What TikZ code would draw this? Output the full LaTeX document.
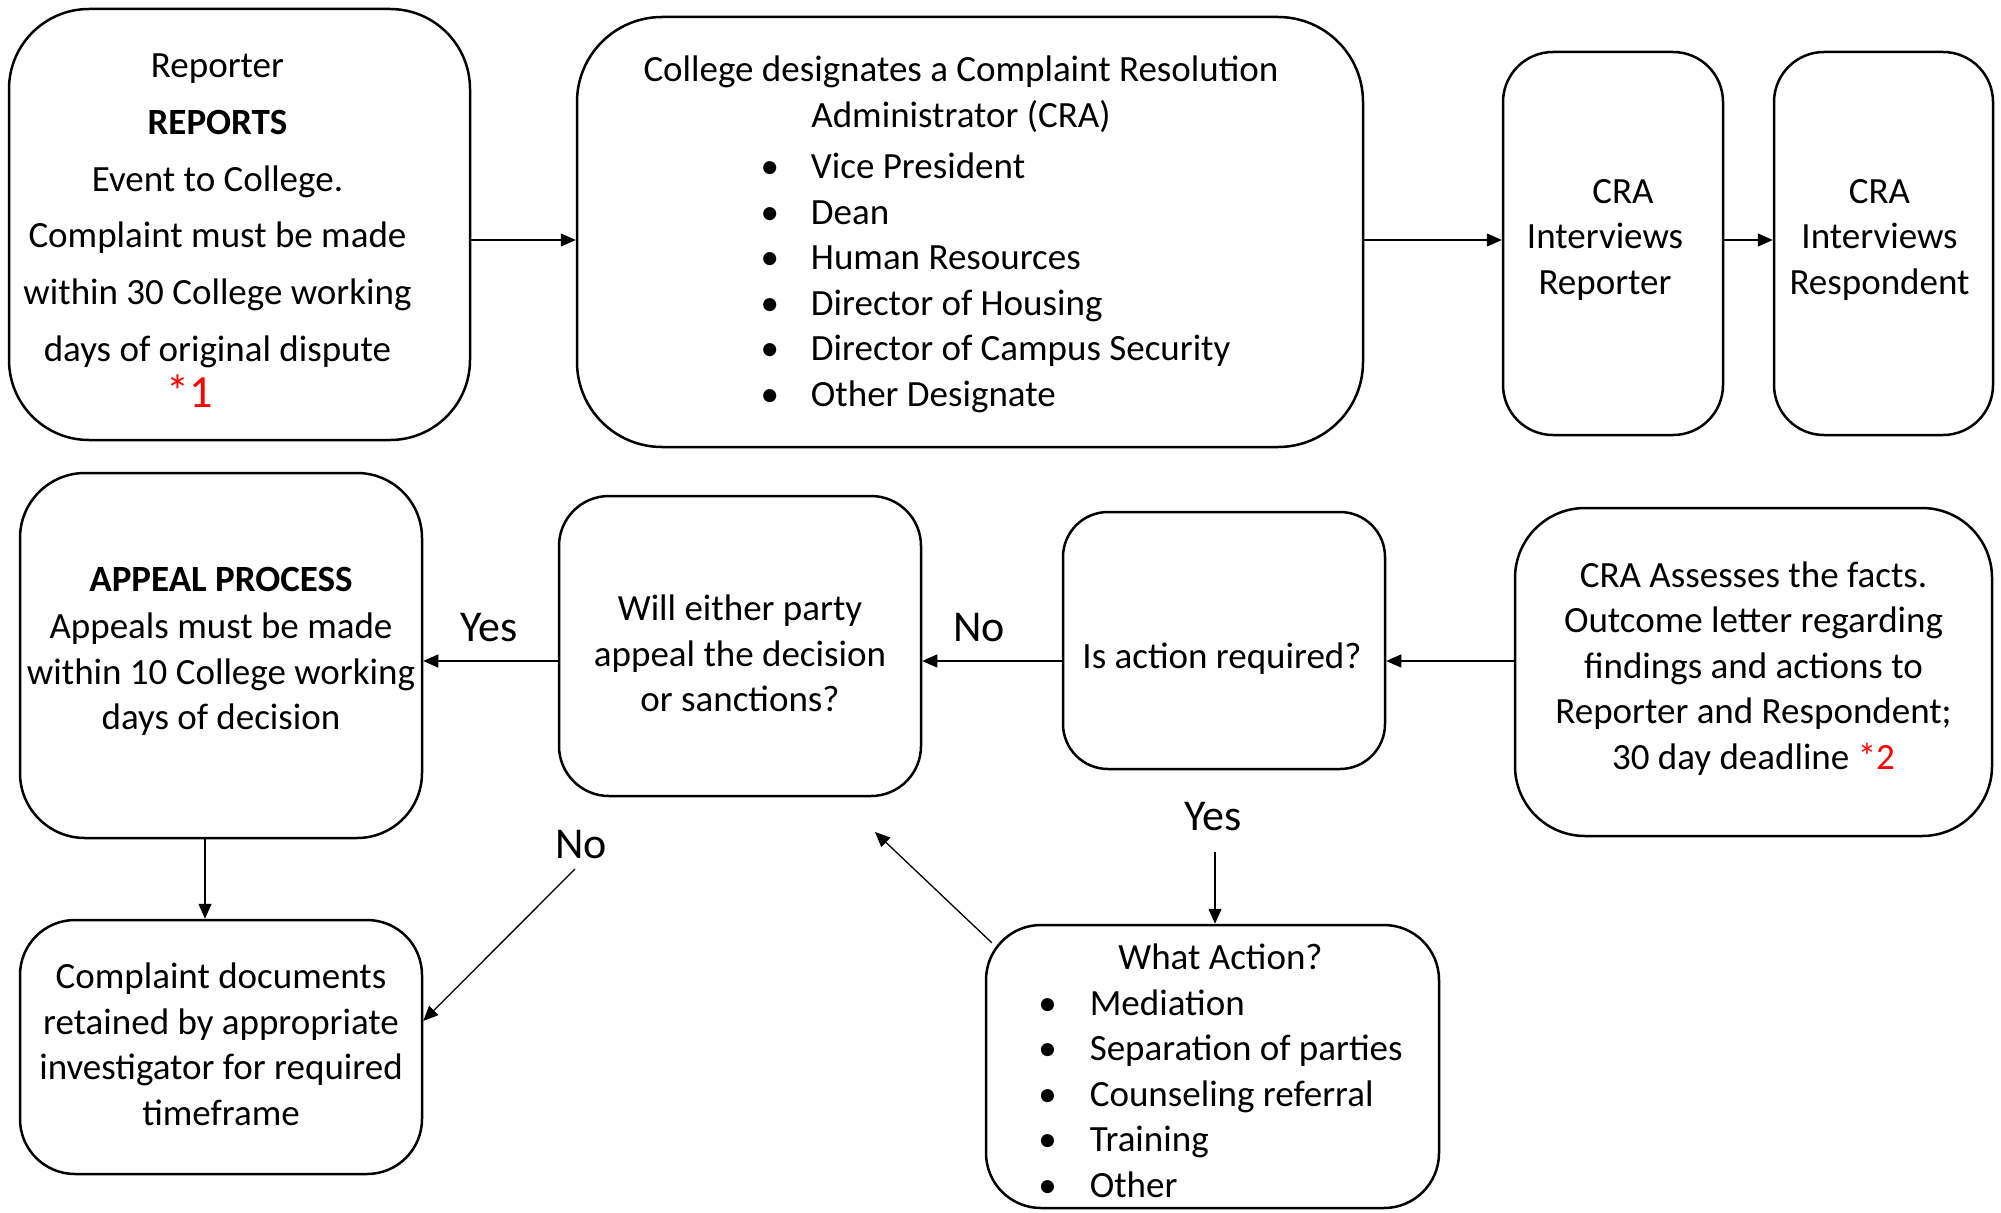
\documentclass[tikz,border=0pt]{standalone}
\usepackage{fontspec}
\setmainfont{Carlito}
\usepackage{xcolor}
\usetikzlibrary{arrows.meta}
% centred block of lines, moved by (#1,#2) inside its box
\newcommand{\boxtext}[3]{\hspace*{#1}\raisebox{#2}[\height][\depth]{\begin{tabular}{@{}c@{}}#3\end{tabular}}\hspace*{-#1}}

\begin{document}
\begin{tikzpicture}[inner sep=0pt,
  box/.style={draw, line width=2.5pt, font=\fontsize{37}{45.5}\selectfont},
  arr/.style={-{Triangle[length=15pt,width=13pt]}, line width=1.3pt, draw},
  lbl/.style={font=\fontsize{44}{50}\selectfont}]
\useasboundingbox (0pt,0pt) rectangle (2001pt,-1212pt);

\node (n0) [box, minimum width=461pt, minimum height=431pt, rounded corners=80pt, at={(239.5pt,-224.5pt)}, font=\fontsize{37}{56.7}\selectfont] {\boxtext{-22pt}{-7pt}{Reporter\\ \textbf{REPORTS}\\ Event to College.\\ Complaint must be made\\ within 30 College working\\ days of original dispute\\[-10pt] {\color{red}\fontsize{46}{50}\selectfont *1}\hspace*{56pt}}};
\node (n1) [box, minimum width=786pt, minimum height=430pt, rounded corners=85pt, at={(970pt,-232pt)}] {\boxtext{-9pt}{-3pt}{College designates a Complaint Resolution\\ Administrator (CRA)\\[6pt] \hspace*{69pt}\begin{tabular}[t]{@{}l@{\hspace{32pt}}l@{}}\textbullet & Vice President\\ \textbullet & Dean\\ \textbullet & Human Resources\\ \textbullet & Director of Housing\\ \textbullet & Director of Campus Security\\ \textbullet & Other Designate\end{tabular}}};
\node (n2) [box, minimum width=220pt, minimum height=383pt, rounded corners=50pt, at={(1613pt,-243.5pt)}] {\boxtext{-8pt}{4pt}{\hspace*{36pt}CRA\\ Interviews\\ Reporter}};
\node (n3) [box, minimum width=219pt, minimum height=383pt, rounded corners=50pt, at={(1883.5pt,-243.5pt)}] {\boxtext{-4pt}{4pt}{CRA\\ Interviews\\ Respondent}};

\node (n4) [box, minimum width=477pt, minimum height=328pt, rounded corners=70pt, at={(1753.5pt,-672pt)}] {\boxtext{0pt}{3pt}{CRA Assesses the facts.\\ Outcome letter regarding\\ findings and actions to\\ Reporter and Respondent;\\ 30 day deadline {\color{red}*2}}};
\node (n5) [box, minimum width=322pt, minimum height=257pt, rounded corners=45pt, at={(1224pt,-640.5pt)}] {\boxtext{-2pt}{-19pt}{Is action required?}};
\node (n6) [box, minimum width=362pt, minimum height=300pt, rounded corners=50pt, at={(740pt,-646pt)}] {\boxtext{0pt}{-11pt}{Will either party\\ appeal the decision\\ or sanctions?}};
\node (n7) [box, minimum width=402pt, minimum height=365pt, rounded corners=65pt, at={(221pt,-655.5pt)}] {\boxtext{0pt}{4pt}{\textbf{APPEAL PROCESS}\\[2pt] Appeals must be made\\ within 10 College working\\ days of decision}};
\node (n8) [box, minimum width=402pt, minimum height=254pt, rounded corners=55pt, at={(221pt,-1047pt)}] {\boxtext{0pt}{-1pt}{Complaint documents\\ retained by appropriate\\ investigator for required\\ timeframe}};
\node (n9) [box, minimum width=453pt, minimum height=283pt, rounded corners=55pt, at={(1212.5pt,-1066.5pt)}] {\boxtext{8pt}{-8pt}{What Action?\\ \begin{tabular}[t]{@{}l@{\hspace{33pt}}l@{}}\textbullet & Mediation\\ \textbullet & Separation of parties\\ \textbullet & Counseling referral\\ \textbullet & Training\\ \textbullet & Other\end{tabular}}};

\node (n67) [lbl, at={(489pt,-628pt)}] {Yes};
\node (n56) [lbl, at={(979pt,-628pt)}] {No};
\node (n68) [lbl, at={(581pt,-845pt)}] {No};
\node (n59) [lbl, at={(1213pt,-817pt)}] {Yes};

\coordinate (r1) at (0pt,-240pt);
\coordinate (r2) at (0pt,-661pt);
\coordinate (c7) at (205pt,0pt);
\coordinate (y0) at (1215pt,-852pt);
\coordinate (no0) at (575pt,-869pt);
\coordinate (bk1) at (875pt,-832pt);

\path [arr](n0.east |- r1)--(n1.west |- r1);
\path [arr](n1.east |- r1)--(n2.west |- r1);
\path [arr](n2.east |- r1)--(n3.west |- r1);
\path [arr](n4.west |- r2)--(n5.east |- r2);
\path [arr](n5.west |- r2)--(n6.east |- r2);
\path [arr](n6.west |- r2)--(n7.east |- r2);
\path [arr](n7.south -| c7)--(n8.north -| c7);
\path [arr](y0)--(n9.north -| y0);
\path [arr](no0)--([yshift=26pt]n8.east);
\path [arr]([xshift=7pt,yshift=-19pt]n9.north west)--(bk1);
\end{tikzpicture}
\end{document}
